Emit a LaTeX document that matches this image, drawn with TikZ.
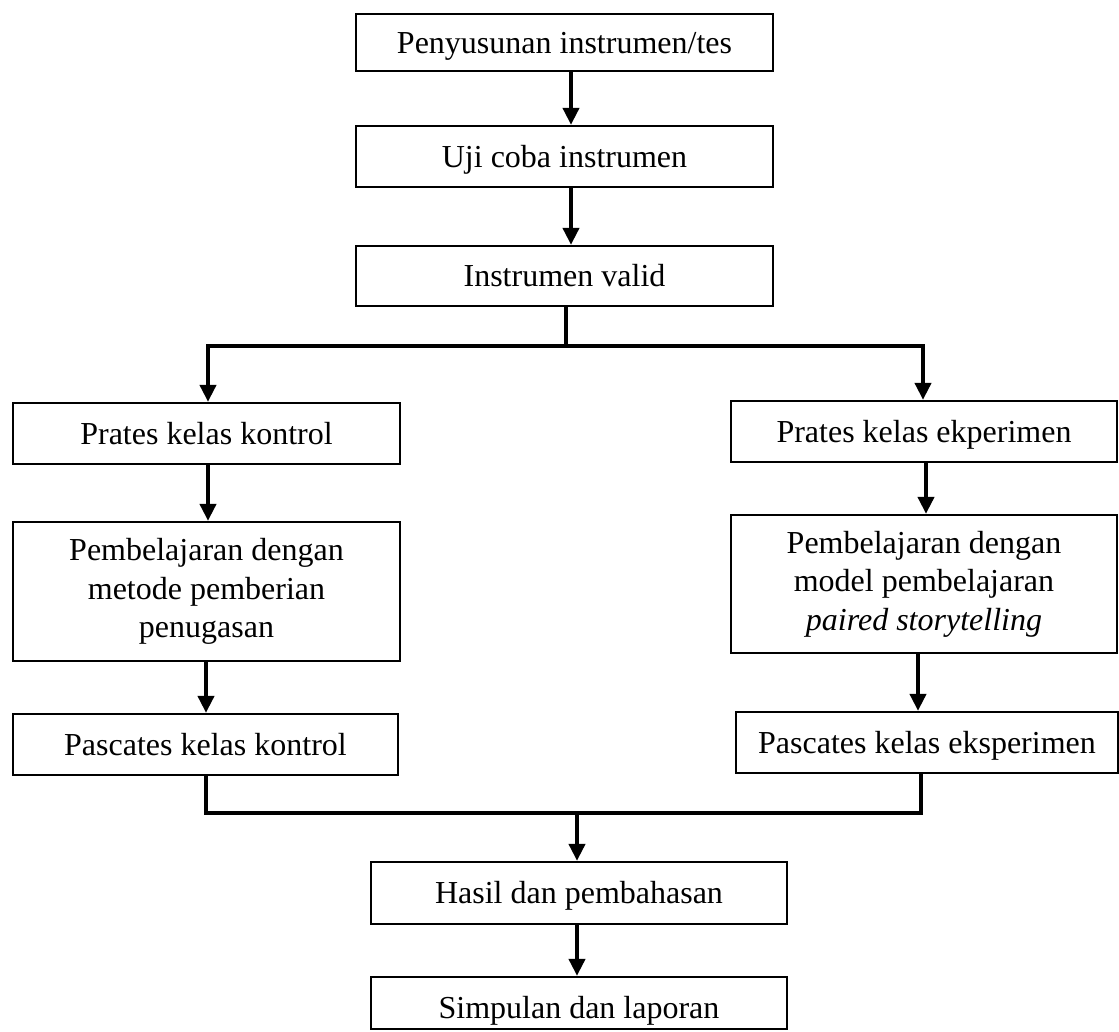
\documentclass[tikz,border=0pt]{standalone}
\usepackage{fontspec}
\setmainfont{Liberation Serif}
\usetikzlibrary{arrows.meta}
\begin{document}
\begin{tikzpicture}[x=1pt,y=-1pt,
  box/.style={draw=black,line width=2.3pt,inner sep=0pt,
    font=\fontsize{32}{38.5}\selectfont,align=center},
  one/.style={box,text height=21pt,text depth=0pt},
  conn/.style={line width=4pt,line join=miter},
  arr/.style={conn,-{Triangle[length=17pt,width=16pt]}}]
\useasboundingbox (0,0) rectangle (1119,1031);

% main column, top
\node[one,minimum width=417pt,minimum height=57pt] (b1) at (564.5,42.5) {Penyusunan instrumen/tes};
\node[one,minimum width=417pt,minimum height=61pt] (b2) at (564.5,156.5) {Uji coba instrumen};
\node[one,minimum width=417pt,minimum height=60pt] (b3) at (564.5,276) {Instrumen valid};

% control class (left)
\node[one,minimum width=387pt,minimum height=61pt] (b4) at (206.5,433.5) {Prates kelas kontrol};
\node[box,minimum width=387pt,minimum height=139pt] (b6) at (206.5,591.5)
  {Pembelajaran dengan\\metode pemberian\\penugasan};
\node[one,minimum width=385pt,minimum height=61pt] (b8) at (205.5,744.5) {Pascates kelas kontrol};

% experiment class (right)
\node[one,minimum width=386pt,minimum height=61pt] (b5) at (924,431.5) {Prates kelas ekperimen};
\node[box,minimum width=386pt,minimum height=138pt] (b7) at (924,584)
  {Pembelajaran dengan\\model pembelajaran\\\textit{paired storytelling}};
\node[one,minimum width=382pt,minimum height=61pt] (b9) at (927,742.5) {Pascates kelas eksperimen};

% main column, bottom
\node[one,minimum width=416pt,minimum height=62pt] (b10) at (579,893) {Hasil dan pembahasan};
\node[one,text height=30pt,minimum width=416pt,minimum height=52pt] (b11) at (579,1003) {Simpulan dan laporan};

% connectors
\draw[arr] ([xshift=6.5pt]b1.south) -- ([xshift=6.5pt]b2.north);
\draw[arr] ([xshift=6.5pt]b2.south) -- ([xshift=6.5pt]b3.north);

\coordinate (split) at (566,346);
\draw[conn] ([xshift=1.5pt]b3.south) -- (split);
\draw[arr] (split) -| ([xshift=1.5pt]b4.north);
\draw[arr] (split) -| ([xshift=-1pt]b5.north);

\draw[arr] ([xshift=1.5pt]b4.south) -- ([xshift=1.5pt]b6.north);
\draw[arr] ([xshift=2pt]b5.south) -- ([xshift=2pt]b7.north);
\draw[arr] ([xshift=-0.5pt]b6.south) -- ([xshift=0.5pt]b8.north);
\draw[arr] ([xshift=-6pt]b7.south) -- ([xshift=-9pt]b9.north);

\coordinate (join) at (577,812);
\draw[conn] ([xshift=0.5pt]b8.south) -- ++(0,37) -| ([xshift=-6pt]b9.south);
\draw[arr] (join) -- ([xshift=-2pt]b10.north);
\draw[arr] ([xshift=-2pt]b10.south) -- ([xshift=-2pt]b11.north);
\end{tikzpicture}
\end{document}
